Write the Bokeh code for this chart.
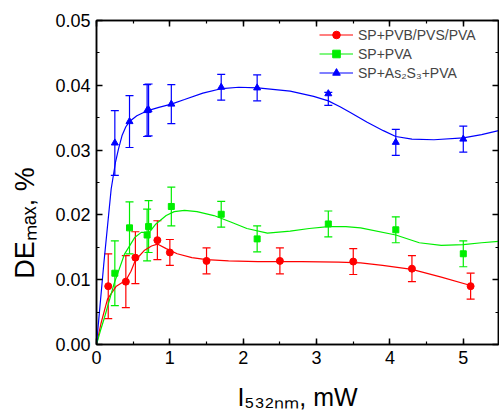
import math
from bokeh.plotting import figure
from bokeh.models import (ColumnDataSource, Whisker, TeeHead, LinearAxis, SingleIntervalTicker,
                          PrintfTickFormatter, CustomJSTickFormatter, Legend, LegendItem,
                          Range1d)
from bokeh.embed import file_html
from bokeh.resources import INLINE

# ---------------- data ----------------
red_x = [0.16, 0.40, 0.53, 0.83, 1.00, 1.50, 2.50, 3.50, 4.30, 5.10]
red_y = [0.0090, 0.0097, 0.0134, 0.0161, 0.0142, 0.0129, 0.0129, 0.0128, 0.0117, 0.0090]
red_err = [0.005, 0.004, 0.004, 0.003, 0.002, 0.002, 0.002, 0.002, 0.002, 0.002]

green_x = [0.25, 0.45, 0.69, 0.71, 1.02, 1.70, 2.19, 3.16, 4.08, 5.00]
green_y = [0.0110, 0.0180, 0.0169, 0.0182, 0.0213, 0.0201, 0.0163, 0.0186, 0.0177, 0.0140]
green_err = [0.005, 0.004, 0.004, 0.004, 0.003, 0.002, 0.002, 0.002, 0.002, 0.002]

blue_x = [0.25, 0.45, 0.69, 0.71, 1.02, 1.70, 2.19, 3.16, 4.08, 5.00]
blue_y = [0.0311, 0.0344, 0.0361, 0.0362, 0.0371, 0.0397, 0.0396, 0.0387, 0.0312, 0.0317]
blue_err_lo = [0.005, 0.004, 0.004, 0.004, 0.003, 0.002, 0.002, 0.0018, 0.002, 0.002]
blue_err_hi = [0.005, 0.004, 0.004, 0.004, 0.003, 0.002, 0.002, 0.0002, 0.002, 0.002]

# fitted curves
red_fit_x = [0, 0.06, 0.15, 0.27, 0.40, 0.47, 0.53, 0.65, 0.75, 0.83, 0.95, 1.10, 1.30, 1.50,
             1.80, 2.20, 2.80, 3.30, 3.60, 3.90, 4.30, 4.70, 5.10, 5.13]
red_fit_y = [0, 0.0032, 0.0070, 0.0090, 0.0099, 0.0113, 0.0130, 0.0145, 0.0152, 0.0155, 0.0148,
             0.0140, 0.0134, 0.0131, 0.0129, 0.0128, 0.0128, 0.0127, 0.0126, 0.0122, 0.0116,
             0.0104, 0.0091, 0.0090]

green_fit_x = [0, 0.05, 0.11, 0.24, 0.38, 0.52, 0.61, 0.72, 0.81, 0.95, 1.06, 1.20, 1.37, 1.60,
               1.83, 2.05, 2.33, 2.64, 2.90, 3.16, 3.40, 3.60, 4.08, 4.40, 4.70, 5.00, 5.25, 5.48]
green_fit_y = [0, 0.0020, 0.0042, 0.0094, 0.0139, 0.0165, 0.0173, 0.0173, 0.0186, 0.0199, 0.0205,
               0.0207, 0.0205, 0.0199, 0.0189, 0.0179, 0.0172, 0.0175, 0.0179, 0.0182, 0.0182,
               0.0180, 0.0169, 0.0157, 0.0153, 0.0154, 0.0157, 0.0159]

blue_fit_x = [0, 0.10, 0.20, 0.26, 0.30, 0.35, 0.40, 0.45, 0.55, 0.70, 0.85, 1.02, 1.20, 1.45,
              1.71, 1.94, 2.20, 2.64, 2.96, 3.16, 3.32, 3.46, 3.69, 3.91, 4.08, 4.30, 4.60,
              5.00, 5.25, 5.48]
blue_fit_y = [0, 0.0125, 0.0240, 0.0282, 0.0302, 0.0323, 0.0336, 0.0344, 0.0353, 0.0361, 0.0366,
              0.0371, 0.0378, 0.0388, 0.0395, 0.0397, 0.0396, 0.0391, 0.0383, 0.0376, 0.0367,
              0.0358, 0.0343, 0.0330, 0.0321, 0.0317, 0.0316, 0.0319, 0.0324, 0.0330]

series_labels = ["SP+PVB/PVS/PVA", "SP+PVA", "SP+As\u2082S\u2083+PVA"]
x_title = "I\u2085\u2083\u2082\u2099\u2098, mW"
y_title = "DE\u2098\u2090\u2093, %"
x_ticks_interval = 1
y_ticks_interval = 0.01

# ---------------- figure ----------------
X_END = 5.48
Y_END = 0.05
FONT = "Liberation Sans"
W, H = 499, 415

p = figure(width=W, height=H, x_range=Range1d(0, X_END), y_range=Range1d(0, Y_END),
           output_backend="svg", toolbar_location=None,
           min_border_left=96, min_border_right=1, min_border_top=20, min_border_bottom=71)
p.xgrid.visible = False
p.ygrid.visible = False
p.outline_line_color = "black"
p.outline_line_width = 1.5
p.background_fill_color = "white"
p.border_fill_color = "white"


def style_axis(ax, ticker, show_labels):
    ax.ticker = ticker
    ax.axis_line_width = 1.5
    ax.major_tick_line_width = 1.5
    ax.minor_tick_line_width = 1.2
    ax.major_tick_in = 6
    ax.major_tick_out = 0
    ax.minor_tick_in = 3
    ax.minor_tick_out = 0
    ax.major_label_text_font = FONT
    if show_labels:
        ax.major_label_text_font_size = "18px"
        ax.major_label_text_color = "black"
        ax.major_label_standoff = 6
    else:
        ax.formatter = CustomJSTickFormatter(code="return ''")
        ax.major_label_standoff = 0


xt = lambda: SingleIntervalTicker(interval=x_ticks_interval, num_minor_ticks=2)
yt = lambda: SingleIntervalTicker(interval=y_ticks_interval, num_minor_ticks=2)

xa = p.xaxis[0]
ya = p.yaxis[0]
style_axis(xa, xt(), True)
style_axis(ya, yt(), True)
ya.formatter = PrintfTickFormatter(format="%.2f")

xa.axis_label = x_title
xa.axis_label_text_font = FONT
xa.axis_label_text_font_size = "25px"
xa.axis_label_text_font_style = "normal"
xa.axis_label_text_color = "black"
xa.axis_label_standoff = 16

# trailing en-spaces push the (centred) rotated title down, as in the original
ya.axis_label = y_title + "\u2002" * 6
ya.axis_label_text_font = FONT
ya.axis_label_text_font_size = "27px"
ya.axis_label_text_font_style = "normal"
ya.axis_label_text_color = "black"
ya.axis_label_standoff = 12

top_ax = LinearAxis()
style_axis(top_ax, xt(), False)
p.add_layout(top_ax, "above")
right_ax = LinearAxis()
style_axis(right_ax, yt(), False)
p.add_layout(right_ax, "right")

# ---------------- series ----------------
def add_series(xs, ys, lo, hi, fx, fy, color, marker, msize):
    src = ColumnDataSource(dict(x=xs, y=ys,
                                lower=[a - b for a, b in zip(ys, lo)],
                                upper=[a + b for a, b in zip(ys, hi)]))
    p.add_layout(Whisker(source=src, base="x", upper="upper", lower="lower",
                         line_color=color, line_width=1.2,
                         upper_head=TeeHead(size=8, line_color=color, line_width=1.2),
                         lower_head=TeeHead(size=8, line_color=color, line_width=1.2)))
    ln = p.line(fx, fy, line_color=color, line_width=1.2)
    sc = p.scatter("x", "y", source=src, marker=marker, size=msize,
                   fill_color=color, line_color=color)
    return ln, sc


r_ln, r_sc = add_series(red_x, red_y, red_err, red_err, red_fit_x, red_fit_y, "#ff0000", "circle", 7)
g_ln, g_sc = add_series(green_x, green_y, green_err, green_err, green_fit_x, green_fit_y, "#00ee00", "square", 6)
b_ln, b_sc = add_series(blue_x, blue_y, blue_err_lo, blue_err_hi, blue_fit_x, blue_fit_y, "#0000ff", "triangle", 7)

legend = Legend(items=[LegendItem(label=series_labels[0], renderers=[r_ln, r_sc]),
                       LegendItem(label=series_labels[1], renderers=[g_ln, g_sc]),
                       LegendItem(label=series_labels[2], renderers=[b_ln, b_sc])],
                location=(223, 262), glyph_width=34, glyph_height=19, label_height=19,
                spacing=0, padding=0, margin=0, border_line_alpha=0, background_fill_alpha=0,
                label_text_font=FONT, label_text_font_size="14px", label_standoff=5)
p.add_layout(legend)

open("out.html", "w").write(file_html(p, INLINE))
